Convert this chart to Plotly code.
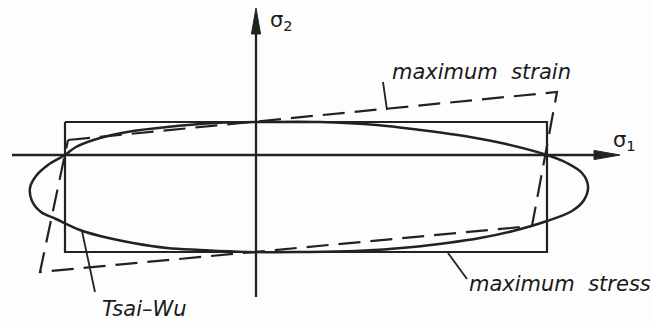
import plotly.graph_objects as go

# Failure envelopes in the sigma1-sigma2 stress plane (arbitrary stress units)

# Maximum stress criterion: strengths along each material axis
XT, XC = 291, 191   # longitudinal tension / compression
YT, YC = 33, 97     # transverse tension / compression

# Maximum strain envelope: corner points (sigma1, sigma2), closed
strain_s1 = [-188, 301, 276, -216, -188]
strain_s2 = [15, 63, -71, -117, 15]

# Tsai-Wu envelope traced clockwise from the top; the first two points are
# repeated at the end so the closed spline has no seam
tsai_s1 = [10, 64, 121, 164, 214, 250, 291, 311, 326, 332, 328, 316, 291, 257,
           224, 191, 157, 100, 44, -10, -56, -89, -123, -156, -176, -200, -215,
           -224, -226, -220, -208, -191, -180, -156, -123, -89, -40, 10, 64]
tsai_s2 = [33, 33, 30, 25, 18, 11, 0, -8, -18, -31, -45, -56, -66, -76,
           -83, -88, -92, -96, -97, -97, -95, -93, -88, -81, -75, -64, -57,
           -46, -33, -21, -10, 0, 8, 17, 24, 28, 32, 33, 33]

envelope_names = ["maximum\u00a0 stress", "maximum\u00a0 strain", "Tsai\u2013Wu"]
axis_names = ["σ<sub>1</sub>", "σ<sub>2</sub>"]

INK = "#222222"
FONT = dict(family="DejaVu Sans", size=21, color="#1a1a1a")

fig = go.Figure()

# Maximum stress rectangle
fig.add_trace(go.Scatter(
    x=[-XC, XT, XT, -XC, -XC], y=[YT, YT, -YC, -YC, YT],
    mode="lines", line=dict(color=INK, width=2.2), hoverinfo="skip"))

# Maximum strain parallelogram (dashed)
fig.add_trace(go.Scatter(
    x=strain_s1, y=strain_s2, mode="lines",
    line=dict(color=INK, width=2.2, dash="22px,10px"), hoverinfo="skip"))

# Tsai-Wu ellipse
fig.add_trace(go.Scatter(
    x=tsai_s1, y=tsai_s2, mode="lines",
    line=dict(color=INK, width=2.5, shape="spline", smoothing=1.0),
    hoverinfo="skip"))

# Coordinate axes with arrowheads
S1_MIN, S1_MAX = -244, 364
S2_MIN, S2_MAX = -142, 147
HEAD_LEN, HEAD_HALF = 26, 4.6

fig.add_trace(go.Scatter(x=[S1_MIN, S1_MAX - HEAD_LEN + 2], y=[0, 0], mode="lines",
                         line=dict(color=INK, width=2.3), hoverinfo="skip"))
fig.add_trace(go.Scatter(x=[0, 0], y=[S2_MIN, S2_MAX - HEAD_LEN + 2], mode="lines",
                         line=dict(color=INK, width=2.3), hoverinfo="skip"))
fig.add_trace(go.Scatter(
    x=[S1_MAX, S1_MAX - HEAD_LEN, S1_MAX - HEAD_LEN, S1_MAX],
    y=[0, HEAD_HALF, -HEAD_HALF, 0], mode="lines", fill="toself",
    fillcolor=INK, line=dict(color=INK, width=1), hoverinfo="skip"))
fig.add_trace(go.Scatter(
    x=[0, HEAD_HALF, -HEAD_HALF, 0],
    y=[S2_MAX, S2_MAX - HEAD_LEN, S2_MAX - HEAD_LEN, S2_MAX], mode="lines",
    fill="toself", fillcolor=INK, line=dict(color=INK, width=1), hoverinfo="skip"))

# Leader lines from labels to their envelopes
leaders = [((192, -98), (211, -124)),    # maximum stress
           ((131, 45), (127, 73)),       # maximum strain
           ((-174, -76), (-161, -137))]  # Tsai-Wu
for (x0, y0), (x1, y1) in leaders:
    fig.add_shape(type="line", x0=x0, y0=y0, x1=x1, y1=y1, xref="x", yref="y",
                  line=dict(color=INK, width=1.8))

label_pos = [(211, -129), (134, 83), (-156, -154)]
for text, (lx, ly) in zip(envelope_names, label_pos):
    fig.add_annotation(x=lx, y=ly, text=f"<i>{text}</i>", showarrow=False,
                       xanchor="left", yanchor="middle", font=FONT)

axis_label_pos = [(355, 14), (12, 134)]
for text, (lx, ly) in zip(axis_names, axis_label_pos):
    fig.add_annotation(x=lx, y=ly, text=text, showarrow=False,
                       xanchor="left", yanchor="middle",
                       font=dict(family="DejaVu Sans", size=21, color="#1a1a1a"))

fig.update_layout(
    width=652, height=323, margin=dict(l=0, r=0, t=0, b=0),
    paper_bgcolor="#fdfdfd", plot_bgcolor="#fdfdfd", showlegend=False,
    xaxis=dict(range=[-256, 396], visible=False, fixedrange=True),
    yaxis=dict(range=[-168, 155], visible=False, fixedrange=True),
)

fig.write_html("out.html", config={"displayModeBar": False})
